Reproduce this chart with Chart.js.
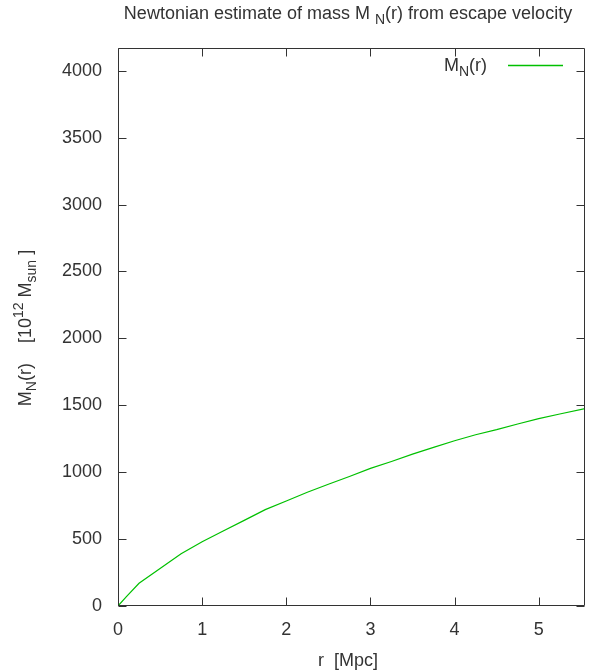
<!DOCTYPE html>
<html>
<head>
<meta charset="utf-8">
<script src="https://cdn.jsdelivr.net/npm/chart.js@4"></script>
<style>
  html, body { margin: 0; padding: 0; background: #fff; }
</style>
</head>
<body>
<canvas id="massChart" width="591" height="670"></canvas>
<script>
// r in Mpc, M_N(r) in 10^12 M_sun
const radius = [0, 0.1, 0.25, 0.5, 0.75, 1.0, 1.25, 1.5, 1.75, 2.0, 2.25, 2.5, 2.75,
  3.0, 3.25, 3.5, 3.75, 4.0, 4.25, 4.5, 4.75, 5.0, 5.25, 5.55];
const massN = [0, 70, 170, 280, 390, 480, 560, 640, 720, 785, 850, 910, 968,
  1028, 1080, 1135, 1185, 1235, 1280, 1318, 1360, 1400, 1435, 1475];

const xTicks = [0, 1, 2, 3, 4, 5];
const yTicks = [0, 500, 1000, 1500, 2000, 2500, 3000, 3500, 4000];
const X_MIN = 0, X_MAX = 5.55;
const Y_MIN = 0, Y_MAX = 4170;

const FONT = '"Liberation Sans", Arial, sans-serif';
const TEXT_COLOR = '#333';
const LINE_COLOR = '#00c000';

// draws text with sub/superscript pieces: [text, 'sub'|'sup'|'']
function richText(ctx, parts, x, y, align) {
  const big = 18, small = 14;
  const widths = parts.map(([t, k]) => {
    ctx.font = (k ? small : big) + 'px ' + FONT;
    return ctx.measureText(t).width;
  });
  const total = widths.reduce((a, b) => a + b, 0);
  let cx = align === 'center' ? x - total / 2 : align === 'right' ? x - total : x;
  ctx.textAlign = 'left';
  ctx.textBaseline = 'alphabetic';
  parts.forEach(([t, k], i) => {
    ctx.font = (k ? small : big) + 'px ' + FONT;
    const dy = k === 'sub' ? 5 : k === 'sup' ? -8 : 0;
    ctx.fillText(t, cx, y + dy);
    cx += widths[i];
  });
}

const gnuplotFrame = {
  id: 'gnuplotFrame',
  afterDraw(chart) {
    const ctx = chart.ctx;
    const a = chart.chartArea;
    const xs = chart.scales.x, ys = chart.scales.y;
    const L = Math.round(a.left) + 0.5, R = Math.round(a.right) - 0.5;
    const T = Math.round(a.top) + 0.5, B = Math.round(a.bottom) - 0.5;
    const tick = 8;

    ctx.save();
    ctx.strokeStyle = '#333';
    ctx.lineWidth = 1;
    ctx.beginPath();
    xs.ticks.forEach((t) => {
      const px = Math.round(xs.getPixelForValue(t.value)) + 0.5;
      ctx.moveTo(px, B); ctx.lineTo(px, B - tick);
      ctx.moveTo(px, T); ctx.lineTo(px, T + tick);
    });
    ys.ticks.forEach((t) => {
      const py = Math.round(ys.getPixelForValue(t.value)) + 0.5;
      ctx.moveTo(L, py); ctx.lineTo(L + tick, py);
      ctx.moveTo(R, py); ctx.lineTo(R - tick, py);
    });
    ctx.rect(L, T, R - L, B - T);
    ctx.stroke();

    ctx.fillStyle = TEXT_COLOR;
    // title
    richText(ctx, [['Newtonian estimate of mass M ', ''], ['N', 'sub'], ['(r) from escape velocity', '']],
      348, 19, 'center');
    // x axis title
    richText(ctx, [['r  [Mpc]', '']], 348, 666, 'center');
    // y axis title
    ctx.save();
    ctx.translate(25, 328);
    ctx.rotate(-Math.PI / 2);
    richText(ctx, [['M', ''], ['N', 'sub'], ['(r)    [10', ''], ['12', 'sup'], [' M', ''], ['sun', 'sub'], [' ]', '']],
      0, 6, 'center');
    ctx.restore();

    // legend
    richText(ctx, [['M', ''], ['N', 'sub'], ['(r)', '']], 487, 71, 'right');
    ctx.strokeStyle = LINE_COLOR;
    ctx.lineWidth = 1.5;
    ctx.beginPath();
    ctx.moveTo(508, 65.5);
    ctx.lineTo(563, 65.5);
    ctx.stroke();
    ctx.restore();
  },
};

new Chart(document.getElementById('massChart').getContext('2d'), {
  type: 'line',
  data: {
    datasets: [
      {
        label: 'M_N(r)',
        data: radius.map((r, i) => ({ x: r, y: massN[i] })),
        borderColor: LINE_COLOR,
        borderWidth: 1.2,
        pointRadius: 0,
        tension: 0,
        fill: false,
      },
    ],
  },
  options: {
    responsive: false,
    animation: false,
    layout: { padding: { top: 48, right: 6, left: 0, bottom: 0 } },
    plugins: {
      legend: { display: false },
      title: { display: false },
      tooltip: { enabled: false },
    },
    scales: {
      x: {
        type: 'linear',
        min: X_MIN,
        max: X_MAX,
        grid: { display: false, drawTicks: false },
        border: { display: false },
        afterFit: (s) => { s.height = 64; },
        afterBuildTicks: (s) => { s.ticks = xTicks.map((v) => ({ value: v })); },
        ticks: {
          color: TEXT_COLOR,
          font: { family: FONT, size: 18 },
          padding: 13,
          maxRotation: 0,
          autoSkip: false,
          callback: (v) => String(v),
        },
      },
      y: {
        min: Y_MIN,
        max: Y_MAX,
        grid: { display: false, drawTicks: false },
        border: { display: false },
        afterFit: (s) => { s.width = 118; },
        afterBuildTicks: (s) => { s.ticks = yTicks.map((v) => ({ value: v })); },
        ticks: {
          color: TEXT_COLOR,
          font: { family: FONT, size: 18 },
          padding: 16,
          autoSkip: false,
          callback: (v) => String(v),
        },
      },
    },
  },
  plugins: [gnuplotFrame],
});
</script>
</body>
</html>
